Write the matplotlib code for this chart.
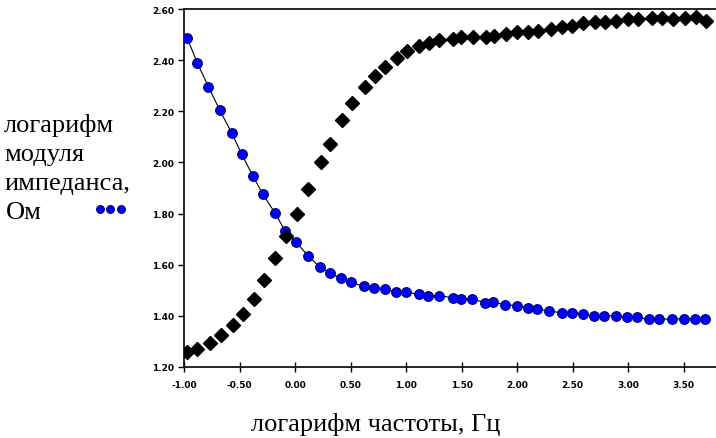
import matplotlib
matplotlib.use("Agg")
import matplotlib.pyplot as plt
from matplotlib.ticker import FormatStrFormatter, MultipleLocator

# log frequency (x) and log impedance modulus (y), blue circles
mod_x = [-0.97, -0.88, -0.78, -0.68, -0.57, -0.48, -0.38, -0.29, -0.18, -0.09,
         0.01, 0.12, 0.22, 0.31, 0.41, 0.50, 0.62, 0.71, 0.81, 0.91, 1.00, 1.12,
         1.20, 1.30, 1.42, 1.49, 1.59, 1.71, 1.78, 1.89, 2.00, 2.10, 2.18, 2.29,
         2.40, 2.49, 2.59, 2.69, 2.78, 2.89, 2.99, 3.08, 3.19, 3.28, 3.39, 3.50,
         3.60, 3.69]
mod_y = [2.485, 2.389, 2.296, 2.206, 2.115, 2.032, 1.947, 1.875, 1.802, 1.731,
         1.688, 1.633, 1.592, 1.568, 1.547, 1.531, 1.515, 1.510, 1.505, 1.492,
         1.492, 1.484, 1.479, 1.479, 1.470, 1.465, 1.466, 1.451, 1.453, 1.444,
         1.439, 1.432, 1.426, 1.418, 1.412, 1.412, 1.406, 1.399, 1.399, 1.401,
         1.394, 1.394, 1.386, 1.386, 1.388, 1.388, 1.388, 1.388]

# second series, black diamonds
ph_x = [-0.97, -0.88, -0.77, -0.67, -0.56, -0.47, -0.37, -0.28, -0.18, -0.08,
        0.02, 0.12, 0.23, 0.31, 0.42, 0.51, 0.63, 0.72, 0.81, 0.92, 1.01, 1.12,
        1.21, 1.30, 1.42, 1.49, 1.60, 1.72, 1.79, 1.90, 2.00, 2.10, 2.19, 2.30,
        2.40, 2.49, 2.59, 2.70, 2.79, 2.89, 3.00, 3.09, 3.21, 3.30, 3.40, 3.51,
        3.61, 3.70]
ph_y = [1.260, 1.270, 1.294, 1.325, 1.364, 1.407, 1.467, 1.539, 1.625, 1.713,
        1.800, 1.896, 2.000, 2.072, 2.165, 2.231, 2.294, 2.337, 2.372, 2.410,
        2.435, 2.457, 2.468, 2.480, 2.483, 2.489, 2.489, 2.489, 2.496, 2.502,
        2.511, 2.509, 2.514, 2.522, 2.528, 2.535, 2.544, 2.550, 2.548, 2.553,
        2.561, 2.561, 2.565, 2.565, 2.560, 2.567, 2.571, 2.553]

serif = "Liberation Serif"
fs = 19

fig = plt.figure(figsize=(7.16, 4.39), dpi=100)
ax = fig.add_axes([0.257, 0.162, 0.743, 0.815])

ax.plot(mod_x, mod_y, color="black", lw=0.8, zorder=2)
blue, = ax.plot(mod_x, mod_y, ls="none", marker="o", ms=7, mfc="#0000ff",
                mec="#00007a", mew=0.8, zorder=3)
ax.plot(ph_x, ph_y, ls="none", marker="D", ms=6.8, color="black", zorder=3)

ax.set_xlim(-1.0, 3.79)
ax.set_ylim(1.2, 2.6)
ax.xaxis.set_major_locator(MultipleLocator(0.5))
ax.yaxis.set_major_locator(MultipleLocator(0.2))
ax.xaxis.set_major_formatter(FormatStrFormatter("%.2f"))
ax.yaxis.set_major_formatter(FormatStrFormatter("%.2f"))
ax.tick_params(axis="x", direction="inout", length=7, width=1, pad=6,
               labelsize=6.5)
ax.tick_params(axis="y", direction="out", length=4, width=1, pad=3,
               labelsize=6.5)
for lab in ax.get_xticklabels() + ax.get_yticklabels():
    lab.set_fontweight("bold")
ax.spines["right"].set_visible(False)
for s in ("left", "bottom", "top"):
    ax.spines[s].set_linewidth(1.2)

fig.text(376 / 716, 1 - 425 / 439, "логарифм частоты, Гц", family=serif,
         fontsize=fs, ha="center", va="center")
fig.text(4 / 716, 1 - 114 / 439, "логарифм\nмодуля\nимпеданса,",
         family=serif, fontsize=fs, ha="left", va="top", linespacing=1.4)
ax.legend([blue], ["Ом"], loc="center left",
          bbox_to_anchor=(-18 / 716, 1 - 212 / 439),
          bbox_transform=fig.transFigure, frameon=False, numpoints=3,
          markerfirst=False, markerscale=0.8, handlelength=1.4,
          handletextpad=1.9, prop={"family": serif, "size": fs})

fig.savefig("out.png", dpi=100)
